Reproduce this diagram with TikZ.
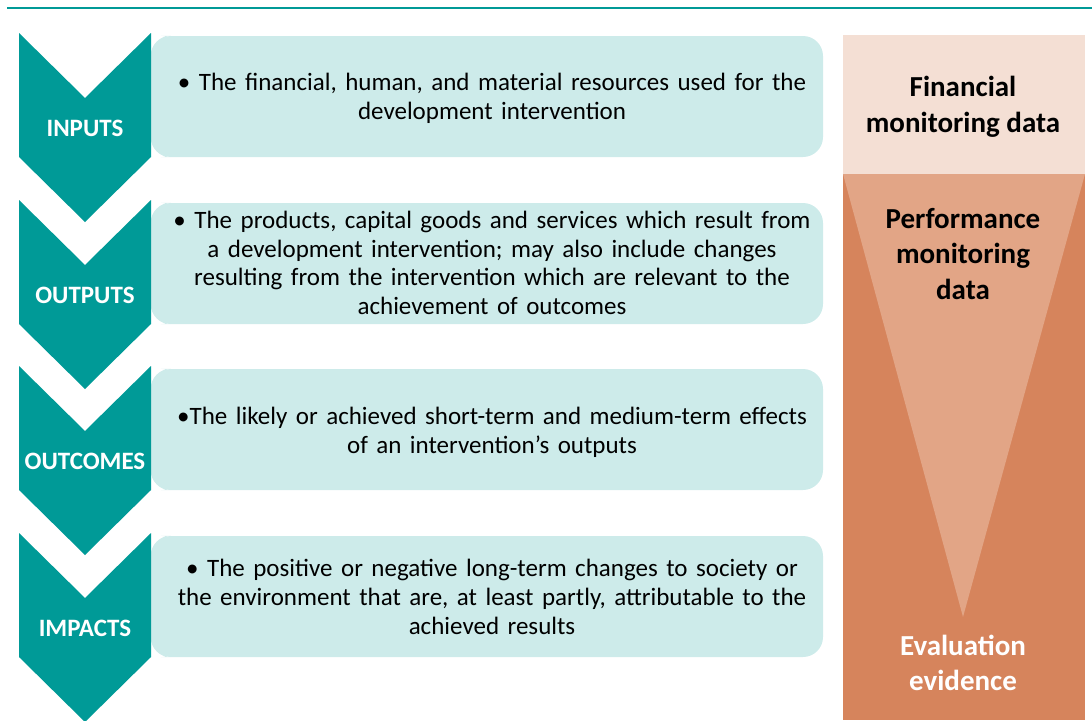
\documentclass[tikz,border=0pt]{standalone}
\usepackage{fontspec}
\setmainfont{Carlito}
\usepackage{tikz}
\definecolor{stageteal}{HTML}{009A97}
\definecolor{stagebox}{HTML}{CDEBEA}
\definecolor{finpeach}{HTML}{F4DFD4}
\definecolor{perforange}{HTML}{E2A586}
\definecolor{evalorange}{HTML}{D6845C}
\newcommand\descfont{\fontsize{25}{28.8}\selectfont\spaceskip=0.34em\relax}
\tikzset{
  stagebox/.style={fill=stagebox,rounded corners=20pt,minimum width=672pt,minimum height=121pt,inner sep=0pt},
  stagelabel/.style={text=white,font=\fontsize{25}{28}\selectfont\bfseries},
  desc/.style={align=center,font=\descfont,inner sep=0pt},
  sidelabel/.style={align=center,font=\fontsize{29}{35.5}\selectfont\bfseries,inner sep=0pt}
}

\begin{document}
\begin{tikzpicture}[x=1pt,y=-1pt]
  \useasboundingbox (0,0) rectangle (1092,720);
  \draw[stageteal,line width=2pt] (7,8) -- (1092,8);
  \foreach \y/\lab/\nm in {33/INPUTS/inputs,200/OUTPUTS/outputs,366/OUTCOMES/outcomes,533/IMPACTS/impacts}{
    \node[stagebox] (box-\nm) at (487,\y+63.5) {};
    \fill[stagebox] (box-\nm.north west) rectangle ([xshift=30pt]box-\nm.south west);
    \fill[stageteal] (19,\y) -- (85,\y+65) -- (151,\y) -- (151,\y+124) -- (85,\y+189) -- (19,\y+124) -- cycle;
    \node[stagelabel] (lab-\nm) at (85,\y+95) {\lab};
  }
  \node[desc] (desc-inputs) at (492,98) {• The financial, human, and material resources used for the\\development intervention};
  \node[desc] (desc-outputs) at (492,263) {• The products, capital goods and services which result from\\a development intervention; may also include changes\\resulting from the intervention which are relevant to the\\achievement of outcomes};
  \node[desc] (desc-outcomes) at (492,432) {•The likely or achieved short-term and medium-term effects\\of an intervention’s outputs};
  \node[desc] (desc-impacts) at (492,597) {• The positive or negative long-term changes to society or\\the environment that are, at least partly, attributable to the\\achieved results};
  \fill[finpeach] (843,35) rectangle (1085,174);
  \fill[evalorange] (843,174) rectangle (1085,720);
  \fill[perforange] (843,174) -- (1085,174) -- (963,617) -- cycle;
  \node[sidelabel] (financial) at (963,107) {Financial\\monitoring data};
  \node[sidelabel] (performance) at (963,254) {Performance\\monitoring\\data};
  \node[sidelabel,text=white] (evaluation) at (963,663) {Evaluation\\evidence};
\end{tikzpicture}
\end{document}
